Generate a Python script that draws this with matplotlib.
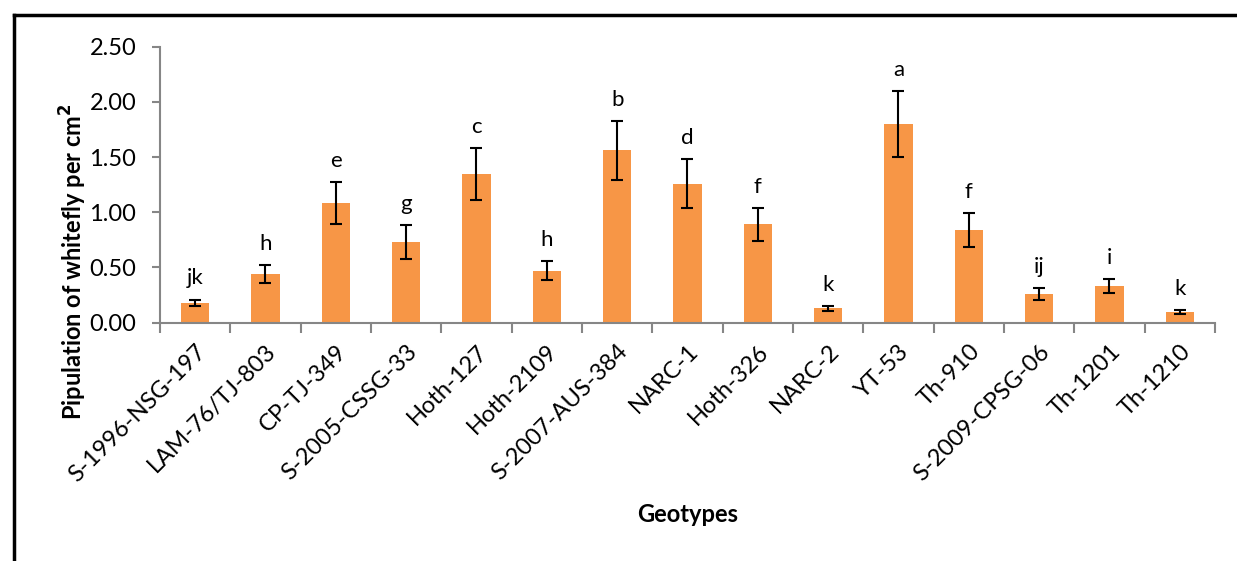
import numpy as np
import matplotlib.pyplot as plt
import matplotlib.transforms as mtransforms
from matplotlib.lines import Line2D

# Geotypes and whitefly counts
genotypes = ['S-1996-NSG-197', 'LAM-76/TJ-803', 'CP-TJ-349', 'S-2005-CSSG-33',
             'Hoth-127', 'Hoth-2109', 'S-2007-AUS-384', 'NARC-1', 'Hoth-326',
             'NARC-2', 'YT-53', 'Th-910', 'S-2009-CPSG-06', 'Th-1201', 'Th-1210']
means = [0.18, 0.44, 1.08, 0.73, 1.35, 0.47, 1.56, 1.26, 0.89, 0.13, 1.80, 0.84, 0.26, 0.33, 0.10]
errors = [0.03, 0.08, 0.19, 0.155, 0.235, 0.085, 0.27, 0.22, 0.15, 0.02, 0.30, 0.15, 0.05, 0.065, 0.018]
letters = ['jk', 'h', 'e', 'g', 'c', 'h', 'b', 'd', 'f', 'k', 'a', 'f', 'ij', 'i', 'k']

plt.rcParams['font.family'] = ['Lato', 'DejaVu Sans']

fig = plt.figure(figsize=(12.37, 5.61), dpi=100)
ax = fig.add_axes([0.1293, 0.4248, 0.8529, 0.4920])

x = np.arange(len(genotypes))
ax.bar(x, means, width=0.4, color='#F79646', zorder=2)
ax.errorbar(x, means, yerr=errors, fmt='none', ecolor='black',
            elinewidth=1.5, capsize=4, capthick=1.5, zorder=3)

# significance letters above the error bars
for xi, m, e, t in zip(x, means, errors, letters):
    ax.annotate(t, (xi, m + e), xytext=(0, 8), textcoords='offset points',
                ha='center', va='bottom', fontsize=16)

ax.set_xlim(-0.5, len(genotypes) - 0.5)
ax.set_ylim(0, 2.5)
ax.set_yticks(np.arange(0, 2.51, 0.5))
ax.set_yticklabels(['%.2f' % v for v in np.arange(0, 2.51, 0.5)], fontsize=17)

ax.set_xticks(np.arange(-0.5, len(genotypes)), minor=False)
ax.set_xticklabels([])
ax.set_xticks(x, minor=True)
ax.set_xticklabels(genotypes, minor=True, rotation=45, ha='right', va='top',
                   rotation_mode='anchor', fontsize=17)
shift = mtransforms.ScaledTranslation(-9 / 100, 0, fig.dpi_scale_trans)
for lab in ax.get_xticklabels(minor=True):
    lab.set_transform(lab.get_transform() + shift)
ax.tick_params(axis='x', which='minor', length=0, pad=13)
ax.tick_params(axis='x', which='major', length=7, color='#868686', width=1.5)
ax.tick_params(axis='y', length=6, color='#868686', width=1.5, pad=11)

for s in ['top', 'right']:
    ax.spines[s].set_visible(False)
for s in ['left', 'bottom']:
    ax.spines[s].set_color('#868686')
    ax.spines[s].set_linewidth(1.5)

fig.text(73 / 1237, 1 - 262 / 561, 'Pipulation of whitefly per cm$^\\mathbf{2}$',
         rotation=90, ha='center', va='center', fontsize=17, fontweight='bold')
fig.text(688 / 1237, 1 - 515 / 561, 'Geotypes', ha='center', va='center',
         fontsize=17, fontweight='bold')

# outer frame (only top and left visible)
fig.add_artist(Line2D([14 / 1237, 1.0], [1 - 15 / 561, 1 - 15 / 561],
                      color='black', linewidth=2.5, transform=fig.transFigure))
fig.add_artist(Line2D([14 / 1237, 14 / 1237], [0, 1 - 15 / 561],
                      color='black', linewidth=2.5, transform=fig.transFigure))

fig.savefig('out.png', dpi=100)
